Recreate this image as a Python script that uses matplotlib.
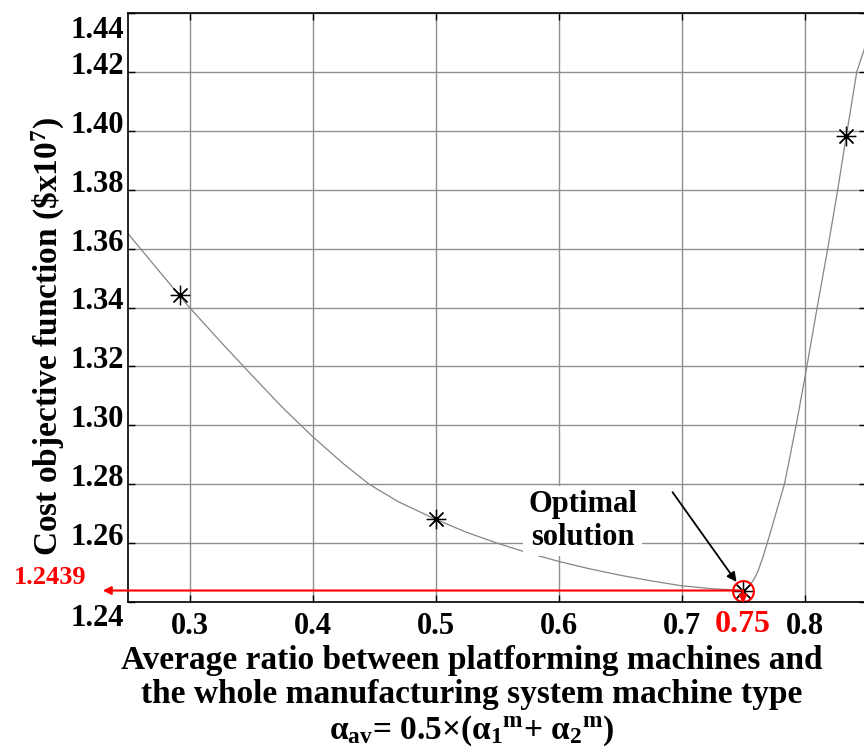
import numpy as np
import matplotlib
matplotlib.use("Agg")
import matplotlib.pyplot as plt
from matplotlib.transforms import ScaledTranslation

plt.rcParams['font.family'] = ['Liberation Serif', 'DejaVu Serif']
plt.rcParams['font.weight'] = 'bold'
plt.rcParams['mathtext.default'] = 'regular'

# curve
curve_x = [0.25, 0.275, 0.30, 0.325, 0.35, 0.375, 0.40, 0.425, 0.446, 0.47, 0.50,
           0.525, 0.55, 0.575, 0.60, 0.625, 0.65, 0.675, 0.70, 0.725, 0.75,
           0.753, 0.756, 0.759, 0.762, 0.7665, 0.7715, 0.7775, 0.7837, 0.7932, 0.8008,
           0.8103, 0.8189, 0.827, 0.834, 0.8425, 0.85]
curve_y = [1.3651, 1.3525, 1.3400, 1.3285, 1.3173, 1.3063, 1.2962, 1.2870, 1.2800,
           1.2740, 1.2681, 1.2637, 1.2600, 1.2567, 1.2538, 1.2513, 1.2491, 1.2472,
           1.2455, 1.2445, 1.2439,
           1.2443, 1.2458, 1.2478, 1.2503, 1.2556, 1.2625, 1.2712, 1.2800, 1.3000, 1.3173,
           1.3400, 1.3600, 1.3800, 1.3983, 1.4200, 1.4295]

# computed points
pts_x = [0.2919, 0.50, 0.75, 0.834]
pts_y = [1.3441, 1.2681, 1.2439, 1.3983]

opt_x, opt_y = 0.75, 1.2439

yticks = [1.24, 1.26, 1.28, 1.30, 1.32, 1.34, 1.36, 1.38, 1.40, 1.42, 1.44]
xticks = [0.3, 0.4, 0.5, 0.6, 0.7, 0.8]

fig = plt.figure(figsize=(8.64, 7.54), dpi=100)
ax = fig.add_axes([128 / 864, 1 - 602 / 754, 738 / 864, 589 / 754])

ax.plot(curve_x, curve_y, color='#858585', lw=0.9)
ax.plot(pts_x, pts_y, ls='none', marker=(8, 2, 0), ms=14, mec='black', mew=0.9)
ax.plot([opt_x], [opt_y], ls='none', marker='o', ms=15, mfc='none', mec='red', mew=1.5)

ax.set_xlim(0.25, 0.85)
ax.set_ylim(1.24, 1.44)
ax.set_xticks(xticks)
ax.set_yticks(yticks)
ax.set_xticklabels([f"{v:.1f}" for v in xticks])
ax.set_yticklabels([f"{v:.2f}" for v in yticks])
ax.grid(True, color='#8f8f8f', lw=1.0)
ax.set_axisbelow(True)
ax.tick_params(direction='in', top=True, right=True, length=5, width=1,
               labelsize=22)
ax.tick_params(axis='x', pad=7)
ax.tick_params(axis='y', pad=3)
for s in ax.spines.values():
    s.set_linewidth(1.2)

# shift y labels like in the original figure
for i, lab in enumerate(ax.get_yticklabels()):
    if i == 0:
        dy = -9.5
    elif i == len(yticks) - 1:
        dy = -10
    else:
        dy = 6.5
    lab.set_transform(lab.get_transform() + ScaledTranslation(0, dy / 72, fig.dpi_scale_trans))

# red guide arrows
ax.annotate('', xy=(0.2295, opt_y), xytext=(opt_x, opt_y), annotation_clip=False,
            arrowprops=dict(arrowstyle='-|>', color='red', lw=1.5, mutation_scale=12,
                            shrinkA=0, shrinkB=0))
ax.annotate('', xy=(opt_x, 1.2395), xytext=(opt_x, opt_y), annotation_clip=False,
            arrowprops=dict(arrowstyle='-|>', color='red', lw=1.5, mutation_scale=12,
                            shrinkA=0, shrinkB=0))
fig.text(50 / 864, 1 - 578 / 754, '1.2439', color='red', fontsize=19,
         ha='center', va='center')
t = ax.text(opt_x, 1.24, '0.75', color='red', fontsize=23, ha='center', va='top')
t.set_transform(ax.transData + ScaledTranslation(0, -6 / 72, fig.dpi_scale_trans))

# optimal solution note
ax.text(0.6195, 1.2675, 'Optimal\nsolution', fontsize=22, ha='center', va='center',
        linespacing=1.15,
        bbox=dict(boxstyle='square,pad=0.15', fc='white', ec='none'))
ax.annotate('', xy=(0.7447, 1.2468), xytext=(0.6927, 1.2773),
            arrowprops=dict(arrowstyle='-|>', color='black', lw=1.3, mutation_scale=14,
                            shrinkA=0, shrinkB=0))

fig.text(48 / 864, 1 - 337 / 754, r'Cost objective function (\$x10$^7$)', rotation=90,
         fontsize=24, ha='center', va='center')

fig.text(472 / 864, 1 - 660 / 754, 'Average ratio between platforming machines and',
         fontsize=24, ha='center', va='center')
fig.text(472 / 864, 1 - 695 / 754, 'the whole manufacturing system machine type',
         fontsize=24, ha='center', va='center')
fig.text(472 / 864, 1 - 731 / 754,
         r'α$_{av}$= 0.5×(α$_1$$^m$+ α$_2$$^m$)',
         fontsize=24, ha='center', va='center')

fig.savefig('out.png', dpi=100)
